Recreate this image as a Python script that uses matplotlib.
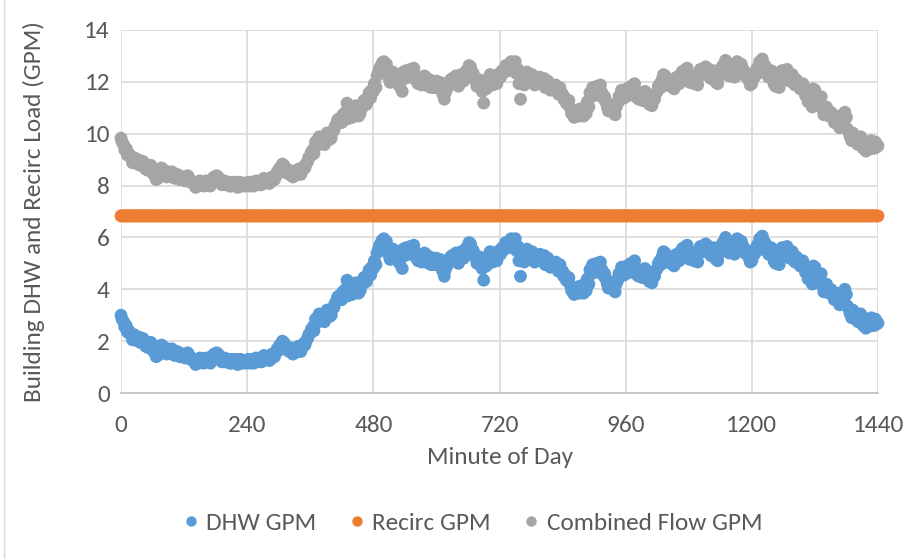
import numpy as np
import matplotlib
matplotlib.use("Agg")
import matplotlib.pyplot as plt
from matplotlib.lines import Line2D

# ---- data ----
# DHW flow read every 5 minutes (minute 0, 5, ..., 1440)
minutes_a = list(range(0, 1441, 5))
dhw_a = [
    3.0, 2.75, 2.6, 2.4, 2.2, 2.25, 2.1, 2.15, 2.05, 2.0, 1.9, 1.85,
    1.75, 1.55, 1.45, 1.7, 1.8, 1.65, 1.7, 1.55, 1.6, 1.5, 1.55, 1.45,
    1.5, 1.4, 1.45, 1.3, 1.2, 1.15, 1.35, 1.25, 1.3, 1.2, 1.15, 1.3,
    1.45, 1.5, 1.3, 1.25, 1.2, 1.3, 1.15, 1.25, 1.3, 1.2, 1.15, 1.25,
    1.2, 1.15, 1.3, 1.25, 1.2, 1.35, 1.3, 1.4, 1.35, 1.3, 1.45, 1.55,
    1.65, 1.75, 1.95, 1.8, 1.6, 1.7, 1.55, 1.6, 1.65, 1.75, 1.85, 2.1,
    2.3, 2.55, 2.85, 2.95, 2.8, 2.9, 3.05, 3.15, 3.0, 3.3, 3.55, 3.75,
    3.6, 3.85, 4.35, 3.9, 3.8, 4.0, 4.1, 3.95, 4.2, 4.4, 4.6, 4.55,
    4.8, 4.95, 5.55, 5.8, 5.95, 5.85, 5.3, 5.45, 5.2, 5.35, 5.0, 4.8,
    5.3, 5.5, 5.65, 5.6, 5.4, 5.1, 5.25, 5.2, 5.35, 5.0, 4.95, 5.1,
    5.2, 5.0, 4.85, 4.5, 4.9, 5.1, 5.3, 5.25, 5.15, 5.2, 5.35, 5.45,
    5.6, 5.75, 5.5, 5.2, 5.1, 5.0, 4.35, 4.9, 5.2, 5.3, 5.35, 5.1,
    5.5, 5.6, 5.7, 5.75, 5.85, 5.8, 5.95, 5.65, 4.5, 5.2, 5.4, 5.5,
    5.35, 5.2, 5.3, 5.25, 5.15, 5.3, 5.1, 5.0, 5.05, 4.9, 4.85, 4.95,
    4.7, 4.55, 4.3, 4.15, 4.0, 3.9, 4.1, 4.0, 3.85, 3.95, 4.2, 4.6,
    4.8, 5.0, 4.9, 4.75, 4.6, 4.2, 4.3, 4.0, 3.9, 4.35, 4.5, 4.7,
    4.6, 4.8, 5.0, 4.95, 4.7, 4.5, 4.6, 4.65, 4.55, 4.3, 4.25, 4.5,
    4.8, 5.1, 5.3, 5.4, 5.2, 5.0, 5.1, 5.05, 5.25, 5.4, 5.6, 5.5,
    5.3, 5.2, 5.1, 5.2, 5.5, 5.6, 5.5, 5.7, 5.6, 5.4, 5.3, 5.1,
    5.5, 5.8, 6.0, 5.6, 5.45, 5.5, 5.7, 5.9, 5.85, 5.6, 5.5, 5.2,
    5.1, 5.35, 5.7, 5.95, 6.05, 5.8, 5.5, 5.4, 5.3, 5.0, 5.1, 5.4,
    5.6, 5.5, 5.4, 5.3, 5.2, 5.25, 5.05, 4.9, 4.8, 4.6, 4.45, 4.2,
    4.85, 4.6, 4.4, 4.1, 3.95, 4.05, 4.0, 3.8, 3.7, 3.6, 3.5, 3.55,
    3.8, 3.2, 2.9, 3.0, 3.05, 2.9, 2.85, 2.7, 2.55, 2.6, 2.75, 2.85,
    2.7,
]
# DHW flow read at the in-between minutes (2, 7, ..., 1437)
minutes_b = list(range(2, 1440, 5))
dhw_b = [
    2.85, 2.55, 2.35, 2.3, 2.05, 2.2, 2.0, 1.95, 2.1, 1.8, 1.75, 1.95,
    1.6, 1.4, 1.65, 1.85, 1.6, 1.5, 1.6, 1.7, 1.45, 1.6, 1.4, 1.5,
    1.35, 1.55, 1.3, 1.25, 1.1, 1.3, 1.2, 1.15, 1.35, 1.25, 1.4, 1.5,
    1.55, 1.35, 1.2, 1.35, 1.25, 1.15, 1.3, 1.2, 1.1, 1.3, 1.25, 1.15,
    1.3, 1.25, 1.15, 1.35, 1.3, 1.2, 1.45, 1.3, 1.25, 1.5, 1.4, 1.7,
    1.85, 2.0, 1.7, 1.65, 1.75, 1.5, 1.7, 1.8, 1.6, 1.9, 2.0, 2.25,
    2.45, 2.4, 2.7, 3.05, 2.95, 2.75, 3.2, 2.95, 3.25, 3.45, 3.7, 3.6,
    3.9, 4.0, 3.75, 4.1, 3.9, 4.25, 3.85, 4.15, 4.45, 4.3, 4.75, 4.85,
    5.1, 5.4, 5.7, 5.9, 5.6, 5.5, 5.15, 5.55, 5.4, 5.1, 5.25, 5.55,
    5.6, 5.35, 5.45, 5.7, 5.2, 5.35, 5.05, 5.4, 5.15, 5.25, 5.2, 4.95,
    5.05, 5.15, 4.7, 4.75, 5.05, 5.25, 5.1, 5.4, 5.0, 5.45, 5.2, 5.6,
    5.8, 5.4, 5.35, 5.0, 5.25, 4.8, 5.05, 5.15, 5.45, 5.05, 5.4, 5.3,
    5.35, 5.5, 5.8, 5.6, 5.95, 5.7, 5.5, 5.1, 5.3, 5.05, 5.55, 5.3,
    5.45, 5.05, 5.2, 5.35, 5.25, 4.95, 5.2, 4.85, 4.9, 5.05, 4.7, 4.75,
    4.5, 4.35, 4.45, 3.95, 3.8, 4.05, 3.85, 4.15, 4.05, 4.4, 4.75, 4.95,
    4.65, 4.75, 5.05, 4.55, 4.4, 4.05, 4.1, 4.15, 4.2, 4.6, 4.85, 4.55,
    4.9, 4.65, 4.8, 5.1, 4.55, 4.75, 4.45, 4.8, 4.4, 4.45, 4.5, 4.7,
    5.0, 4.95, 5.45, 5.15, 5.05, 5.25, 4.9, 5.35, 5.1, 5.55, 5.35, 5.7,
    5.15, 5.4, 5.3, 5.05, 5.65, 5.45, 5.75, 5.45, 5.3, 5.6, 5.15, 5.35,
    5.7, 5.55, 5.85, 5.4, 5.7, 5.35, 5.95, 5.6, 5.7, 5.4, 5.3, 5.05,
    5.3, 5.55, 5.5, 5.8, 5.7, 5.6, 5.35, 5.6, 5.1, 5.25, 4.95, 5.6,
    5.35, 5.65, 5.2, 5.45, 5.05, 5.15, 4.9, 5.1, 4.65, 4.4, 4.7, 4.9,
    4.5, 4.25, 4.6, 3.9, 4.2, 3.85, 3.95, 3.6, 3.85, 3.4, 3.7, 4.0,
    3.35, 3.05, 3.2, 2.85, 2.75, 3.05, 2.6, 2.5, 2.75, 2.9, 2.6, 2.65,
]
recirc_value = 6.83

x_ticks = [0, 240, 480, 720, 960, 1200, 1440]
y_ticks = [0, 2, 4, 6, 8, 10, 12, 14]
series_names = ["DHW GPM", "Recirc GPM", "Combined Flow GPM"]
colors = ["#5B9BD5", "#ED7D31", "#A5A5A5"]

minutes = minutes_a + minutes_b
dhw_gpm = dhw_a + dhw_b
recirc_gpm = [recirc_value] * len(minutes)
combined_gpm = [d + r for d, r in zip(dhw_gpm, recirc_gpm)]

plt.rcParams['font.family'] = ['Carlito', 'Lato', 'DejaVu Sans']
fs = 18.2
text_col = "#595959"

fig = plt.figure(figsize=(9.16, 5.59), dpi=100)
ax = fig.add_axes([121/916, 1 - 393/559, (878 - 121)/916, (393 - 30)/559])

ms = 85
for vals, c, name in zip([dhw_gpm, recirc_gpm, combined_gpm], colors, series_names):
    ax.scatter(minutes, vals, s=ms, color=c, edgecolors='none', label=name,
               clip_on=False, zorder=3)

ax.set_xlim(0, 1440)
ax.set_ylim(0, 14)
ax.set_xticks(x_ticks)
ax.set_yticks(y_ticks)
ax.grid(True, color="#D9D9D9", linewidth=1.2, zorder=0)
ax.set_axisbelow(True)
for s in ["top", "right", "left"]:
    ax.spines[s].set_visible(False)
ax.spines["bottom"].set_color("#BFBFBF")
ax.spines["bottom"].set_linewidth(1.2)
ax.tick_params(axis='both', length=0, labelsize=fs, labelcolor=text_col)
ax.tick_params(axis='y', pad=8)
ax.tick_params(axis='x', pad=16)

ax.set_xlabel("Minute of Day", fontsize=fs, color=text_col, labelpad=8)
ax.set_ylabel("Building DHW and Recirc Load (GPM)", fontsize=fs, color=text_col, labelpad=28)

handles = [Line2D([0], [0], marker='o', linestyle='none', markersize=7.5,
                  markerfacecolor=c, markeredgecolor='none') for c in colors]
fig.legend(handles, series_names, loc='center', bbox_to_anchor=(470/916, 1 - 523/559),
           ncol=3, frameon=False, fontsize=fs, labelcolor=text_col,
           handlelength=1.0, handletextpad=0.1, columnspacing=1.12)

fig.add_artist(Line2D([4/916, 4/916], [0, 1], transform=fig.transFigure,
                      color="#D9D9D9", linewidth=1))

fig.savefig("out.png", dpi=100)
